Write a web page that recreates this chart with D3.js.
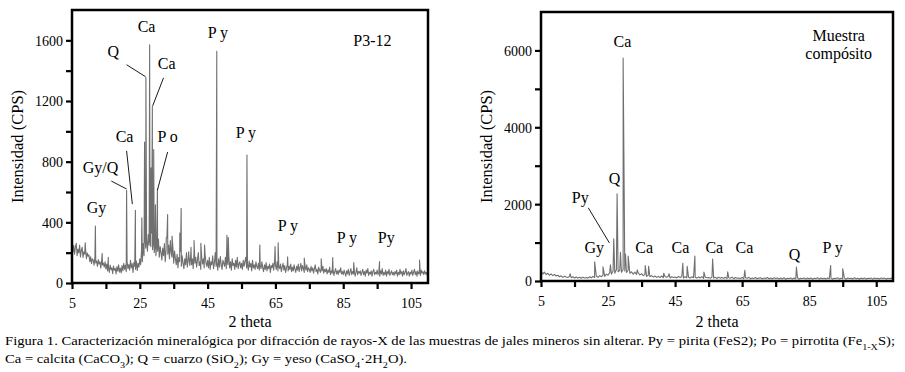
<!DOCTYPE html>
<html>
<head>
<meta charset="utf-8">
<script src="https://cdn.jsdelivr.net/npm/d3@7"></script>
<style>
  html, body { margin: 0; padding: 0; background: #fff; }
  svg { display: block; }
</style>
</head>
<body>
<svg id="fig" width="905" height="372"></svg>
<script>
/* XRD patterns, two panels: sample P3-12 and composite sample */
var FONT = '"Liberation Serif"';

/* P3-12 background counts, 2theta 5 -> 110, step 0.25 */
var p312Start = 5, p312Step = 0.25;
var p312Background = [
  270, 205, 248, 190, 236, 262, 180, 224, 198, 250, 172, 215, 236, 168, 205, 190, 228, 160, 198, 176,
  185, 140, 172, 128, 160, 150, 118, 168, 132, 145, 110, 155, 125, 140, 98, 150, 118, 132, 105, 140,
  92, 125, 80, 110, 70, 118, 88, 100, 62, 112, 85, 96, 60, 108, 78, 120, 72, 98, 66, 115,
  80, 130, 90, 118, 75, 140, 95, 122, 85, 150, 100, 128, 70, 135, 110, 90, 145, 82, 130, 105,
  160, 120, 210, 140, 260, 180, 300, 230, 280, 210, 320, 250, 290, 240, 330, 220, 270, 200, 250, 180,
  260, 210, 290, 170, 240, 200, 150, 230, 180, 260, 140, 220, 300, 190, 250, 160, 280, 200, 170, 240,
  130, 210, 160, 120, 190, 100, 170, 140, 210, 110, 180, 130, 95, 160, 120, 200, 105, 150, 175, 115,
  180, 120, 160, 95, 210, 130, 170, 105, 150, 200, 115, 140, 90, 175, 125, 160, 100, 190, 135, 110,
  150, 100, 170, 90, 140, 120, 180, 95, 130, 200, 110, 140, 85, 160, 105, 175, 120, 90, 150, 130,
  110, 170, 95, 150, 120, 180, 100, 140, 85, 160, 115, 130, 90, 150, 105, 170, 95, 125, 140, 100,
  130, 90, 150, 110, 140, 170, 100, 125, 85, 145, 105, 130, 80, 150, 100, 120, 90, 140, 110, 95,
  130, 85, 115, 95, 140, 100, 75, 120, 90, 135, 80, 110, 95, 125, 70, 115, 100, 130, 85, 150,
  120, 90, 140, 80, 110, 95, 125, 75, 105, 130, 85, 115, 70, 100, 120, 80, 110, 90, 125, 75,
  105, 80, 120, 90, 70, 110, 85, 125, 75, 100, 130, 80, 115, 95, 70, 110, 85, 120, 75, 100,
  90, 70, 110, 80, 100, 65, 95, 120, 75, 90, 60, 105, 85, 70, 100, 80, 110, 65, 90, 75,
  95, 60, 85, 70, 105, 55, 80, 65, 90, 50, 75, 95, 60, 80, 55, 85, 70, 100, 60, 75,
  55, 85, 65, 45, 80, 60, 90, 50, 70, 95, 55, 75, 60, 85, 45, 70, 100, 55, 75, 65,
  80, 50, 70, 90, 55, 75, 45, 85, 65, 95, 50, 70, 60, 80, 45, 75, 90, 55, 70, 60,
  85, 55, 70, 45, 80, 60, 95, 50, 70, 55, 85, 45, 75, 60, 90, 50, 65, 80, 55, 70,
  50, 75, 60, 85, 45, 70, 55, 90, 60, 75, 45, 80, 55, 70, 95, 50, 65, 75, 45, 70,
  60, 85, 50, 70, 90, 55, 75, 45, 80, 60, 70, 50, 85, 65, 75, 55, 80, 60, 70, 50,
  65
];
/* P3-12 reflections: [2theta, counts] */
var p312Peaks = [
  [8.9, 265], [11.9, 375], [13.9, 195], [15.7, 170], [21.1, 612], [23.7, 480],
  [25.6, 430], [26.4, 930], [26.8, 1355], [27.9, 1570], [28.3, 760], [28.7, 1165],
  [29.1, 880], [29.6, 515], [30.2, 620], [32.8, 300], [33.2, 452], [34.5, 310],
  [36.8, 330], [37.2, 492], [39.4, 205], [40.1, 235], [41.0, 280], [43.0, 262],
  [44.1, 250], [47.7, 1527], [50.7, 315], [51.1, 300], [56.6, 844], [60.4, 250],
  [64.9, 240], [65.8, 265], [68.6, 172], [73.5, 165], [78.5, 160], [81.9, 168],
  [88.1, 135], [95.7, 142], [107.5, 152]
];

/* Composite sample background counts, 2theta 5 -> 110, step 0.5 */
var compStart = 5, compStep = 0.5;
var compBackground = [
  260, 180, 230, 170, 200, 150, 185, 140, 170, 130,
  150, 110, 135, 95, 125, 105, 90, 120, 85, 110,
  80, 105, 75, 95, 70, 100, 80, 90, 75, 110,
  85, 120, 90, 130, 95, 140, 110, 160, 120, 180,
  150, 220, 180, 260, 200, 300, 240, 280, 230, 300,
  260, 220, 280, 200, 240, 180, 230, 170, 210, 160,
  190, 140, 170, 120, 150, 110, 140, 100, 130, 95,
  120, 90, 130, 85, 115, 95, 125, 80, 110, 90,
  105, 80, 120, 90, 110, 75, 115, 85, 100, 80,
  110, 85, 95, 75, 105, 80, 115, 70, 100, 85,
  90, 70, 105, 80, 95, 65, 100, 75, 90, 70,
  95, 65, 85, 75, 100, 60, 90, 70, 80, 65,
  90, 60, 85, 70, 95, 55, 80, 65, 90, 60,
  75, 85, 55, 80, 65, 90, 60, 75, 55, 85,
  65, 80, 55, 75, 60, 85, 50, 70, 65, 80,
  55, 75, 60, 85, 50, 70, 65, 80, 55, 75,
  60, 80, 50, 70, 65, 85, 55, 75, 60, 70,
  55, 80, 60, 75, 50, 70, 65, 85, 55, 70,
  60, 75, 50, 80, 65, 70, 55, 85, 60, 70,
  50, 75, 60, 80, 55, 70, 65, 75, 50, 80,
  60, 70, 55, 80, 65, 75, 50, 70, 60, 75,
  65
];
var compPeaks = [
  [13.7, 190], [21.0, 500], [23.5, 370], [25.7, 420], [26.7, 1100], [27.7, 2270],
  [28.7, 750], [29.5, 5800], [30.2, 700], [31.0, 650], [33.7, 290], [36.1, 400],
  [37.1, 380], [41.6, 200], [43.2, 190], [47.3, 460], [48.6, 380], [50.9, 650],
  [53.6, 230], [56.2, 570], [60.7, 240], [65.8, 280], [81.2, 360], [91.4, 400],
  [95.0, 320]
];

/* Phase labels: [text, 2theta, counts] (label centre x, baseline) */
var p312Labels = [
  ['Ca', 27.0, 1657], ['Q', 17.2, 1492], ['Ca', 32.9, 1413], ['Ca', 20.5, 930],
  ['P o', 33.2, 930], ['Gy/Q', 13.4, 725], ['Gy', 12.2, 461], ['P y', 48.0, 1618],
  ['P y', 56.3, 957], ['P y', 68.7, 342], ['P y', 86.1, 262], ['Py', 97.7, 262],
  ['P3-12', 93.6, 1565]
];
/* Leader lines: [x1, y1, x2, y2] in data units */
var p312Leaders = [
  [21.1, 1439, 26.7, 1360], [32.0, 1353, 28.8, 1168], [21.1, 871, 22.8, 520],
  [33.2, 864, 30.2, 613], [16.6, 672, 21.1, 620]
];
var compLabels = [
  ['Muestra', 93.8, 6235], ['compósito', 93.8, 5766], ['Ca', 29.3, 6079],
  ['Q', 26.9, 2531], ['Py', 16.7, 2035], ['Gy', 20.9, 730], ['Ca', 35.8, 730],
  ['Ca', 46.6, 730], ['Ca', 56.7, 730], ['Ca', 65.7, 730], ['Q', 80.6, 548],
  ['P y', 92.0, 730]
];
var compLeaders = [[19.1, 1905, 25.4, 991]];

var xTicks = [5, 15, 25, 35, 45, 55, 65, 75, 85, 95, 105];
var xTickLabels = [5, 25, 45, 65, 85, 105];
var p312YTicks = [0, 200, 400, 600, 800, 1000, 1200, 1400, 1600];
var p312YLabels = [0, 400, 800, 1200, 1600];
var compYTicks = [0, 1000, 2000, 3000, 4000, 5000, 6000];
var compYLabels = [0, 2000, 4000, 6000];

var svg = d3.select('#fig').style('font-family', FONT);

function series(start, step, bg, peaks) {
  var pts = bg.map(function (v, i) { return [start + i * step, v]; });
  pts = pts.concat(peaks);
  pts.sort(function (a, b) { return a[0] - b[0]; });
  return pts;
}

function label(sel, size) {
  return sel.style('font-family', FONT).style('font-size', size).attr('fill', '#000');
}

function panel(opt) {
  var g = svg.append('g');
  var x = d3.scaleLinear().domain([5, 110]).range([opt.left, opt.right]);
  var y = d3.scaleLinear().domain([0, opt.yMax]).range([opt.bottom, opt.top]);

  var line = d3.line().x(function (d) { return x(d[0]); }).y(function (d) { return y(d[1]); });
  g.append('path')
    .datum(series(opt.start, opt.step, opt.bg, opt.peaks))
    .attr('d', line)
    .attr('fill', 'none').attr('stroke', '#707070').attr('stroke-width', 1.1)
    .attr('stroke-linejoin', 'round');

  /* frame */
  g.append('rect')
    .attr('x', opt.left).attr('y', opt.top)
    .attr('width', opt.right - opt.left).attr('height', opt.bottom - opt.top)
    .attr('fill', 'none').attr('stroke', '#000').attr('stroke-width', 2.5);

  /* axes */
  var xAxis = d3.axisBottom(x).tickValues(xTicks).tickSizeInner(6).tickSizeOuter(0)
    .tickFormat(function (d) { return xTickLabels.indexOf(d) >= 0 ? d : ''; });
  var gx = g.append('g').attr('transform', 'translate(0,' + opt.bottom + ')').call(xAxis);
  var yAxis = d3.axisLeft(y).tickValues(opt.yTicks).tickSizeInner(6).tickSizeOuter(0)
    .tickFormat(function (d) { return opt.yLabels.indexOf(d) >= 0 ? d : ''; });
  var gy = g.append('g').attr('transform', 'translate(' + opt.left + ',0)').call(yAxis);

  [gx, gy].forEach(function (a) {
    a.attr('font-family', null);
    a.select('.domain').remove();
    a.selectAll('line').attr('stroke', '#000').attr('stroke-width', 2.2);
    label(a.selectAll('text'), '14px');
  });
  gx.selectAll('text').attr('dy', null).attr('y', 25);
  gy.selectAll('text').attr('x', -9).attr('dy', '0.35em');

  /* titles */
  label(g.append('text'), '16.5px')
    .attr('transform', 'translate(' + opt.yTitleX + ',' + ((opt.top + opt.bottom) / 2) + ') rotate(-90)')
    .attr('text-anchor', 'middle').attr('dy', '0.35em')
    .text('Intensidad (CPS)');
  label(g.append('text'), '16px')
    .attr('x', (opt.left + opt.right) / 2).attr('y', 327)
    .attr('text-anchor', 'middle').text('2 theta');

  /* leaders & labels */
  opt.leaders.forEach(function (l) {
    g.append('line')
      .attr('x1', x(l[0])).attr('y1', y(l[1])).attr('x2', x(l[2])).attr('y2', y(l[3]))
      .attr('stroke', '#000').attr('stroke-width', 0.9);
  });
  opt.labels.forEach(function (l) {
    label(g.append('text'), '16px')
      .attr('x', x(l[1])).attr('y', y(l[2]))
      .attr('text-anchor', 'middle').text(l[0]);
  });
}

panel({
  left: 72, right: 428, top: 10, bottom: 283, yMax: 1800,
  start: p312Start, step: p312Step, bg: p312Background, peaks: p312Peaks,
  yTicks: p312YTicks, yLabels: p312YLabels, yTitleX: 17,
  labels: p312Labels, leaders: p312Leaders
});

panel({
  left: 541, right: 893, top: 12, bottom: 281, yMax: 7000,
  start: compStart, step: compStep, bg: compBackground, peaks: compPeaks,
  yTicks: compYTicks, yLabels: compYLabels, yTitleX: 486,
  labels: compLabels, leaders: compLeaders
});

/* caption */
var cap1 = label(svg.append('text'), '13px').attr('x', 5).attr('y', 345)
  .attr('textLength', 890).attr('lengthAdjust', 'spacingAndGlyphs');
cap1.append('tspan').text('Figura 1. Caracterización mineralógica por difracción de rayos-X de las muestras de jales mineros sin alterar. Py = pirita (FeS2); Po = pirrotita (Fe');
cap1.append('tspan').attr('baseline-shift', 'sub').style('font-size', '9px').text('1-X');
cap1.append('tspan').text('S);');

var cap2 = label(svg.append('text'), '13px').attr('x', 5).attr('y', 363)
  .attr('textLength', 402).attr('lengthAdjust', 'spacingAndGlyphs');
[['Ca = calcita (CaCO', false], ['3', true], ['); Q = cuarzo (SiO', false], ['2', true],
 ['); Gy = yeso (CaSO', false], ['4', true], ['·2H', false], ['2', true], ['O).', false]]
  .forEach(function (p) {
    var t = cap2.append('tspan').text(p[0]);
    if (p[1]) t.attr('baseline-shift', 'sub').style('font-size', '9px');
  });
</script>
</body>
</html>
